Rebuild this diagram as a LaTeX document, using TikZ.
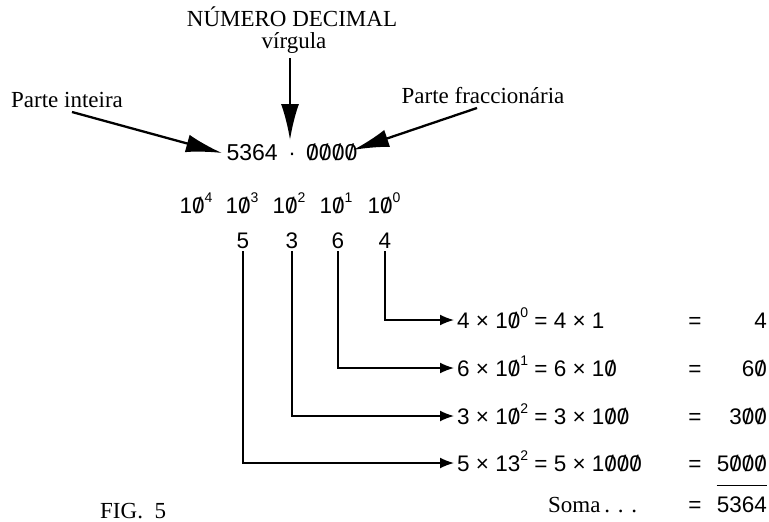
\documentclass[tikz,border=0pt]{standalone}
\usepackage{fontspec}
\setmainfont{Liberation Serif}
\newfontfamily\hv{Liberation Sans}
\usetikzlibrary{arrows.meta}
\newcommand\zr{{\ooalign{0\cr\hidewidth/\hidewidth\cr}}}
\newcommand\sups[1]{\raisebox{0.45em}{\fontsize{14}{14}\selectfont #1}}
\tikzset{
  lab/.style={font=\fontsize{23}{23}\selectfont, inner sep=0pt},
  num/.style={font=\hv\fontsize{22.5}{22.5}\selectfont, inner sep=0pt},
  bigarr/.style={line width=2.3pt, -{Latex[length=36pt,width=18pt]}},
  arr/.style={line width=1.6pt, -{Latex[length=14pt,width=11pt]}},
}
\begin{document}
\begin{tikzpicture}[x=1pt,y=-1pt]
\useasboundingbox (0,0) rectangle (769,522);
% labels
\node[lab, anchor=base] (title) at (292,26) {NÚMERO DECIMAL};
\node[lab, anchor=base] (virg) at (294,48) {vírgula};
\node[lab, anchor=base] (pint) at (67,107) {Parte inteira};
\node[lab, anchor=base] (pfrac) at (483,103) {Parte fraccionária};
% number row
\node[num, font=\hv\fontsize{23}{23}\selectfont, anchor=base east] (int) at (278,160) {5364};
\node[num, anchor=base] (dot) at (292,160) {·};
\node[num, font=\hv\fontsize{23}{23}\selectfont, anchor=base west] (frac) at (306,160) {\zr\zr\zr\zr};
\coordinate (dtop) at (290,140);
\coordinate (itip) at (222,153);
\coordinate (ftip) at (353,150);
\coordinate (vs) at (290,58);
\coordinate (ps) at (72,112);
\coordinate (fs) at (477,108);
\draw[bigarr] (vs) -- (dtop);
\draw[bigarr] (ps) -- (itip);
\draw[bigarr] (fs) -- (ftip);
% powers
\node[num, anchor=base] (p4) at (196,213) {1\zr\sups{4}};
\node[num, anchor=base] (p3) at (242,213) {1\zr\sups{3}};
\node[num, anchor=base] (p2) at (289,213) {1\zr\sups{2}};
\node[num, anchor=base] (p1) at (336,213) {1\zr\sups{1}};
\node[num, anchor=base] (p0) at (384,213) {1\zr\sups{0}};
% digits
\node[num, anchor=base] (d5) at (243,248) {5};
\node[num, anchor=base] (d3) at (292,248) {3};
\node[num, anchor=base] (d6) at (338,248) {6};
\node[num, anchor=base] (d4) at (385,248) {4};
% arrow tips
\coordinate (t1) at (454,320);
\coordinate (t2) at (454,368);
\coordinate (t3) at (454,416);
\coordinate (t4) at (454,463);
\draw[arr] ([yshift=-3pt]d4.south) |- (t1);
\draw[arr] ([yshift=-3pt]d6.south) |- (t2);
\draw[arr] ([yshift=-3pt]d3.south) |- (t3);
\draw[arr] ([yshift=-3pt]d5.south) |- (t4);
% equations
\node[num, anchor=base west] (e1) at (457,328) {4 × 1\zr\sups{0} = 4 × 1};
\node[num, anchor=base west] (e2) at (457,376) {6 × 1\zr\sups{1} = 6 × 1\zr};
\node[num, anchor=base west] (e3) at (457,424) {3 × 1\zr\sups{2} = 3 × 1\zr\zr};
\node[num, anchor=base west] (e4) at (457,471) {5 × 13\sups{2} = 5 × 1\zr\zr\zr};
\node[num, anchor=base] (q1) at (695,328) {=};
\node[num, anchor=base] (q2) at (695,376) {=};
\node[num, anchor=base] (q3) at (695,424) {=};
\node[num, anchor=base] (q4) at (695,471) {=};
\node[num, anchor=base] (q5) at (695,512) {=};
\node[num, anchor=base east] (r1) at (767,328) {4};
\node[num, anchor=base east] (r2) at (767,376) {6\zr};
\node[num, anchor=base east] (r3) at (767,424) {3\zr\zr};
\node[num, anchor=base east] (r4) at (767,471) {5\zr\zr\zr};
\node[num, anchor=base east] (r5) at (767,512) {5364};
\draw[line width=1pt] (r4.west |- 0,485) -- (r4.east |- 0,485);
\node[lab, anchor=base west] (soma) at (548,512) {Soma\,.\,\,.\,\,.};
\node[lab, anchor=base west, text depth=0pt] (fig) at (100,518) {FIG.\ \ 5};
\end{tikzpicture}
\end{document}
